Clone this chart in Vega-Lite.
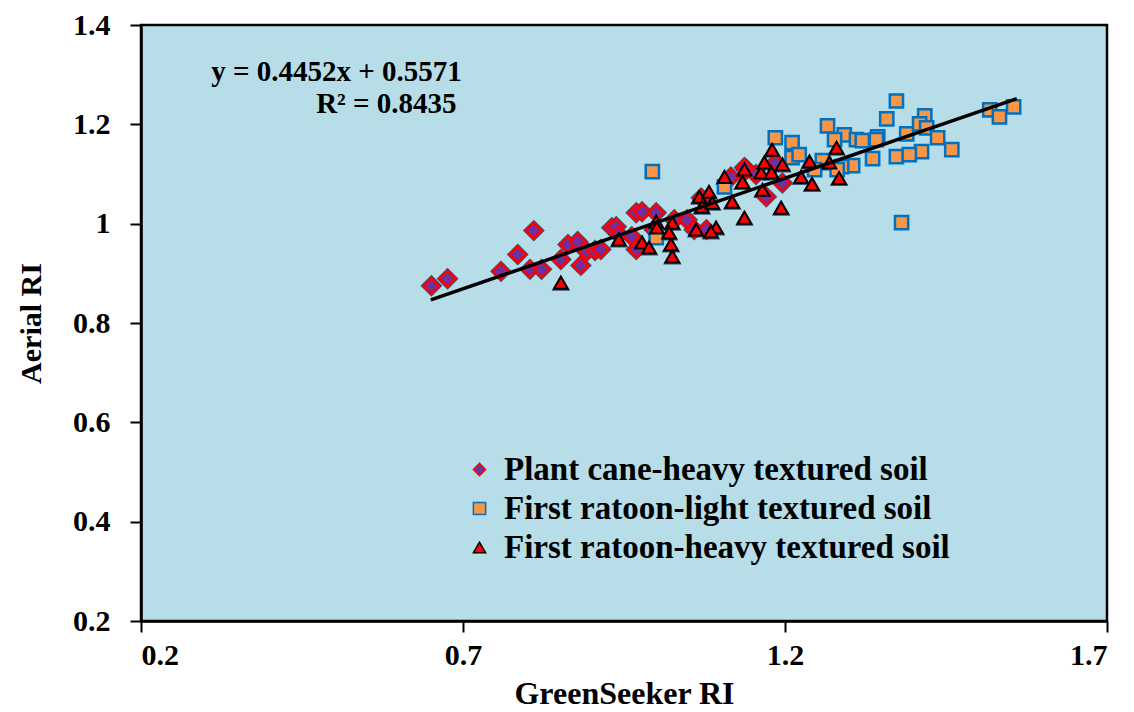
{
  "$schema": "https://vega.github.io/schema/vega-lite/v6.json",
  "width": 966,
  "height": 596,
  "autosize": {"type": "none"},
  "padding": {"left": 141, "top": 25, "right": 27, "bottom": 91},
  "background": "white",
  "config": {
    "view": {"fill": "#b7dde8", "stroke": "black", "strokeWidth": 2.5},
    "font": "Liberation Serif",
    "axis": {
      "grid": false,
      "domainColor": "black",
      "domainWidth": 2.5,
      "tickColor": "black",
      "tickWidth": 2,
      "tickSize": 11,
      "labelFont": "Liberation Serif",
      "labelFontSize": 30,
      "labelFontWeight": "bold",
      "labelColor": "black",
      "titleFont": "Liberation Serif",
      "titleFontSize": 32,
      "titleFontWeight": "bold",
      "titleColor": "black"
    },
    "legend": {
      "labelFont": "Liberation Serif",
      "labelFontSize": 33,
      "labelFontWeight": "bold",
      "labelColor": "black",
      "labelLimit": 700,
      "symbolSize": 150,
      "symbolStrokeWidth": 1.5,
      "rowPadding": 5,
      "labelOffset": 8,
      "padding": 0
    }
  },
  "datasets": {
    "pts": [
      {"series": "Plant cane-heavy textured soil", "x": 0.651, "y": 0.875},
      {"series": "Plant cane-heavy textured soil", "x": 0.676, "y": 0.889},
      {"series": "Plant cane-heavy textured soil", "x": 0.759, "y": 0.904},
      {"series": "Plant cane-heavy textured soil", "x": 0.785, "y": 0.938},
      {"series": "Plant cane-heavy textured soil", "x": 0.810, "y": 0.986},
      {"series": "Plant cane-heavy textured soil", "x": 0.804, "y": 0.908},
      {"series": "Plant cane-heavy textured soil", "x": 0.822, "y": 0.908},
      {"series": "Plant cane-heavy textured soil", "x": 0.852, "y": 0.928},
      {"series": "Plant cane-heavy textured soil", "x": 0.863, "y": 0.958},
      {"series": "Plant cane-heavy textured soil", "x": 0.878, "y": 0.964},
      {"series": "Plant cane-heavy textured soil", "x": 0.892, "y": 0.944},
      {"series": "Plant cane-heavy textured soil", "x": 0.905, "y": 0.946},
      {"series": "Plant cane-heavy textured soil", "x": 0.883, "y": 0.916},
      {"series": "Plant cane-heavy textured soil", "x": 0.931, "y": 0.992},
      {"series": "Plant cane-heavy textured soil", "x": 0.914, "y": 0.948},
      {"series": "Plant cane-heavy textured soil", "x": 0.938, "y": 0.994},
      {"series": "Plant cane-heavy textured soil", "x": 0.942, "y": 0.978},
      {"series": "Plant cane-heavy textured soil", "x": 0.969, "y": 1.022},
      {"series": "Plant cane-heavy textured soil", "x": 0.978, "y": 1.024},
      {"series": "Plant cane-heavy textured soil", "x": 1.000, "y": 1.022},
      {"series": "Plant cane-heavy textured soil", "x": 0.969, "y": 0.948},
      {"series": "Plant cane-heavy textured soil", "x": 0.962, "y": 0.974},
      {"series": "Plant cane-heavy textured soil", "x": 0.997, "y": 0.988},
      {"series": "Plant cane-heavy textured soil", "x": 1.028, "y": 1.008},
      {"series": "Plant cane-heavy textured soil", "x": 1.048, "y": 1.008},
      {"series": "Plant cane-heavy textured soil", "x": 1.059, "y": 0.988},
      {"series": "Plant cane-heavy textured soil", "x": 1.078, "y": 0.988},
      {"series": "Plant cane-heavy textured soil", "x": 1.070, "y": 1.052},
      {"series": "Plant cane-heavy textured soil", "x": 1.116, "y": 1.094},
      {"series": "Plant cane-heavy textured soil", "x": 1.140, "y": 1.109},
      {"series": "Plant cane-heavy textured soil", "x": 1.137, "y": 1.113},
      {"series": "Plant cane-heavy textured soil", "x": 1.155, "y": 1.099},
      {"series": "Plant cane-heavy textured soil", "x": 1.171, "y": 1.054},
      {"series": "Plant cane-heavy textured soil", "x": 1.196, "y": 1.082},
      {"series": "Plant cane-heavy textured soil", "x": 1.186, "y": 1.123},
      {"series": "First ratoon-light textured soil", "x": 0.994, "y": 1.105},
      {"series": "First ratoon-light textured soil", "x": 1.106, "y": 1.074},
      {"series": "First ratoon-light textured soil", "x": 1.000, "y": 0.972},
      {"series": "First ratoon-light textured soil", "x": 1.373, "y": 1.247},
      {"series": "First ratoon-light textured soil", "x": 1.358, "y": 1.211},
      {"series": "First ratoon-light textured soil", "x": 1.417, "y": 1.217},
      {"series": "First ratoon-light textured soil", "x": 1.266, "y": 1.197},
      {"series": "First ratoon-light textured soil", "x": 1.292, "y": 1.179},
      {"series": "First ratoon-light textured soil", "x": 1.211, "y": 1.163},
      {"series": "First ratoon-light textured soil", "x": 1.185, "y": 1.173},
      {"series": "First ratoon-light textured soil", "x": 1.277, "y": 1.169},
      {"series": "First ratoon-light textured soil", "x": 1.311, "y": 1.169},
      {"series": "First ratoon-light textured soil", "x": 1.320, "y": 1.167},
      {"series": "First ratoon-light textured soil", "x": 1.344, "y": 1.175},
      {"series": "First ratoon-light textured soil", "x": 1.342, "y": 1.169},
      {"series": "First ratoon-light textured soil", "x": 1.389, "y": 1.181},
      {"series": "First ratoon-light textured soil", "x": 1.409, "y": 1.201},
      {"series": "First ratoon-light textured soil", "x": 1.420, "y": 1.193},
      {"series": "First ratoon-light textured soil", "x": 1.437, "y": 1.173},
      {"series": "First ratoon-light textured soil", "x": 1.459, "y": 1.149},
      {"series": "First ratoon-light textured soil", "x": 1.412, "y": 1.145},
      {"series": "First ratoon-light textured soil", "x": 1.373, "y": 1.135},
      {"series": "First ratoon-light textured soil", "x": 1.393, "y": 1.139},
      {"series": "First ratoon-light textured soil", "x": 1.336, "y": 1.131},
      {"series": "First ratoon-light textured soil", "x": 1.305, "y": 1.117},
      {"series": "First ratoon-light textured soil", "x": 1.211, "y": 1.133},
      {"series": "First ratoon-light textured soil", "x": 1.222, "y": 1.139},
      {"series": "First ratoon-light textured soil", "x": 1.258, "y": 1.127},
      {"series": "First ratoon-light textured soil", "x": 1.288, "y": 1.115},
      {"series": "First ratoon-light textured soil", "x": 1.281, "y": 1.109},
      {"series": "First ratoon-light textured soil", "x": 1.246, "y": 1.109},
      {"series": "First ratoon-light textured soil", "x": 1.518, "y": 1.229},
      {"series": "First ratoon-light textured soil", "x": 1.533, "y": 1.215},
      {"series": "First ratoon-light textured soil", "x": 1.555, "y": 1.235},
      {"series": "First ratoon-light textured soil", "x": 1.381, "y": 1.002},
      {"series": "First ratoon-heavy textured soil", "x": 0.852, "y": 0.881},
      {"series": "First ratoon-heavy textured soil", "x": 0.942, "y": 0.968},
      {"series": "First ratoon-heavy textured soil", "x": 0.978, "y": 0.962},
      {"series": "First ratoon-heavy textured soil", "x": 0.989, "y": 0.952},
      {"series": "First ratoon-heavy textured soil", "x": 1.000, "y": 1.004},
      {"series": "First ratoon-heavy textured soil", "x": 1.001, "y": 0.992},
      {"series": "First ratoon-heavy textured soil", "x": 1.023, "y": 0.958},
      {"series": "First ratoon-heavy textured soil", "x": 1.025, "y": 0.934},
      {"series": "First ratoon-heavy textured soil", "x": 1.025, "y": 1.002},
      {"series": "First ratoon-heavy textured soil", "x": 1.020, "y": 0.982},
      {"series": "First ratoon-heavy textured soil", "x": 1.062, "y": 0.988},
      {"series": "First ratoon-heavy textured soil", "x": 1.093, "y": 0.992},
      {"series": "First ratoon-heavy textured soil", "x": 1.085, "y": 0.984},
      {"series": "First ratoon-heavy textured soil", "x": 1.067, "y": 1.054},
      {"series": "First ratoon-heavy textured soil", "x": 1.082, "y": 1.064},
      {"series": "First ratoon-heavy textured soil", "x": 1.071, "y": 1.034},
      {"series": "First ratoon-heavy textured soil", "x": 1.087, "y": 1.042},
      {"series": "First ratoon-heavy textured soil", "x": 1.118, "y": 1.044},
      {"series": "First ratoon-heavy textured soil", "x": 1.137, "y": 1.012},
      {"series": "First ratoon-heavy textured soil", "x": 1.106, "y": 1.094},
      {"series": "First ratoon-heavy textured soil", "x": 1.137, "y": 1.109},
      {"series": "First ratoon-heavy textured soil", "x": 1.134, "y": 1.084},
      {"series": "First ratoon-heavy textured soil", "x": 1.163, "y": 1.103},
      {"series": "First ratoon-heavy textured soil", "x": 1.179, "y": 1.103},
      {"series": "First ratoon-heavy textured soil", "x": 1.196, "y": 1.119},
      {"series": "First ratoon-heavy textured soil", "x": 1.168, "y": 1.123},
      {"series": "First ratoon-heavy textured soil", "x": 1.165, "y": 1.068},
      {"series": "First ratoon-heavy textured soil", "x": 1.194, "y": 1.032},
      {"series": "First ratoon-heavy textured soil", "x": 1.180, "y": 1.149},
      {"series": "First ratoon-heavy textured soil", "x": 1.280, "y": 1.153},
      {"series": "First ratoon-heavy textured soil", "x": 1.238, "y": 1.125},
      {"series": "First ratoon-heavy textured soil", "x": 1.269, "y": 1.123},
      {"series": "First ratoon-heavy textured soil", "x": 1.284, "y": 1.092},
      {"series": "First ratoon-heavy textured soil", "x": 1.242, "y": 1.080},
      {"series": "First ratoon-heavy textured soil", "x": 1.225, "y": 1.094}
    ],
    "trend": [
      {"x": 0.65, "y": 0.8465},
      {"x": 1.56, "y": 1.2516}
    ],
    "labels": [
      {"x": 0.698, "y": 1.305, "text": "y = 0.4452x + 0.5571"},
      {"x": 0.69, "y": 1.241, "text": "R² = 0.8435"}
    ]
  },
  "layer": [
    {
      "data": {"name": "pts"},
      "transform": [{"filter": "datum.series === 'Plant cane-heavy textured soil'"}],
      "mark": {"type": "point", "shape": "diamond", "filled": true, "color": "#16305e", "size": 480, "opacity": 0.8},
      "encoding": {
        "x": {"field": "x", "type": "quantitative", "scale": {"domain": [0.2, 1.7], "nice": false, "zero": false},
              "axis": {"values": [0.2, 0.7, 1.2, 1.7], "format": ".1f", "title": "GreenSeeker RI", "labelPadding": 8, "titlePadding": 8}},
        "y": {"field": "y", "type": "quantitative", "scale": {"domain": [0.2, 1.4], "nice": false, "zero": false},
              "axis": {"values": [0.2, 0.4, 0.6, 0.8, 1, 1.2, 1.4], "format": ".1~f", "title": "Aerial RI", "labelPadding": 20, "titlePadding": 26, "titleFontSize": 30}}
      }
    },
    {
      "data": {"name": "pts"},
      "transform": [{"filter": "datum.series === 'First ratoon-heavy textured soil'"}],
      "mark": {"type": "point", "shape": "triangle-up", "filled": true, "color": "#16305e", "size": 340, "opacity": 0.8},
      "encoding": {
        "x": {"field": "x", "type": "quantitative"},
        "y": {"field": "y", "type": "quantitative"}
      }
    },
    {
      "data": {"name": "pts"},
      "transform": [{"filter": "datum.series === 'Plant cane-heavy textured soil'"}],
      "mark": {"type": "point", "filled": true, "strokeWidth": 2.5, "opacity": 1, "size": 250},
      "encoding": {
        "x": {"field": "x", "type": "quantitative"},
        "y": {"field": "y", "type": "quantitative"},
        "fill": {"field": "series", "type": "nominal",
                 "scale": {"domain": ["Plant cane-heavy textured soil", "First ratoon-light textured soil", "First ratoon-heavy textured soil"], "range": ["#7030a0", "#f79646", "#ff0000"]},
                 "legend": {"title": null, "orient": "none", "legendX": 322, "legendY": 428}},
        "stroke": {"field": "series", "type": "nominal",
                   "scale": {"domain": ["Plant cane-heavy textured soil", "First ratoon-light textured soil", "First ratoon-heavy textured soil"], "range": ["#ff0000", "#0070c0", "#000000"]},
                   "legend": {"title": null, "orient": "none", "legendX": 322, "legendY": 428}},
        "shape": {"field": "series", "type": "nominal",
                  "scale": {"domain": ["Plant cane-heavy textured soil", "First ratoon-light textured soil", "First ratoon-heavy textured soil"], "range": ["diamond", "square", "triangle-up"]},
                  "legend": {"title": null, "orient": "none", "legendX": 322, "legendY": 428}}
      }
    },
    {
      "data": {"name": "pts"},
      "transform": [{"filter": "datum.series === 'First ratoon-light textured soil'"}],
      "mark": {"type": "point", "filled": true, "strokeWidth": 2.5, "opacity": 1, "size": 175},
      "encoding": {
        "x": {"field": "x", "type": "quantitative"},
        "y": {"field": "y", "type": "quantitative"},
        "fill": {"field": "series", "type": "nominal", "legend": {"title": null, "orient": "none", "legendX": 322, "legendY": 428}},
        "stroke": {"field": "series", "type": "nominal", "legend": {"title": null, "orient": "none", "legendX": 322, "legendY": 428}},
        "shape": {"field": "series", "type": "nominal", "legend": {"title": null, "orient": "none", "legendX": 322, "legendY": 428}}
      }
    },
    {
      "data": {"name": "pts"},
      "transform": [{"filter": "datum.series === 'First ratoon-heavy textured soil'"}],
      "mark": {"type": "point", "filled": true, "strokeWidth": 2, "opacity": 1, "size": 190},
      "encoding": {
        "x": {"field": "x", "type": "quantitative"},
        "y": {"field": "y", "type": "quantitative"},
        "fill": {"field": "series", "type": "nominal", "legend": {"title": null, "orient": "none", "legendX": 322, "legendY": 428}},
        "stroke": {"field": "series", "type": "nominal", "legend": {"title": null, "orient": "none", "legendX": 322, "legendY": 428}},
        "shape": {"field": "series", "type": "nominal", "legend": {"title": null, "orient": "none", "legendX": 322, "legendY": 428}}
      }
    },
    {
      "data": {"name": "trend"},
      "mark": {"type": "line", "color": "black", "strokeWidth": 3.5},
      "encoding": {
        "x": {"field": "x", "type": "quantitative"},
        "y": {"field": "y", "type": "quantitative"}
      }
    },
    {
      "data": {"name": "labels"},
      "mark": {"type": "text", "align": "right", "baseline": "middle", "font": "Liberation Serif", "fontSize": 29, "fontWeight": "bold", "color": "black"},
      "encoding": {
        "x": {"field": "x", "type": "quantitative"},
        "y": {"field": "y", "type": "quantitative"},
        "text": {"field": "text", "type": "nominal"}
      }
    }
  ]
}
